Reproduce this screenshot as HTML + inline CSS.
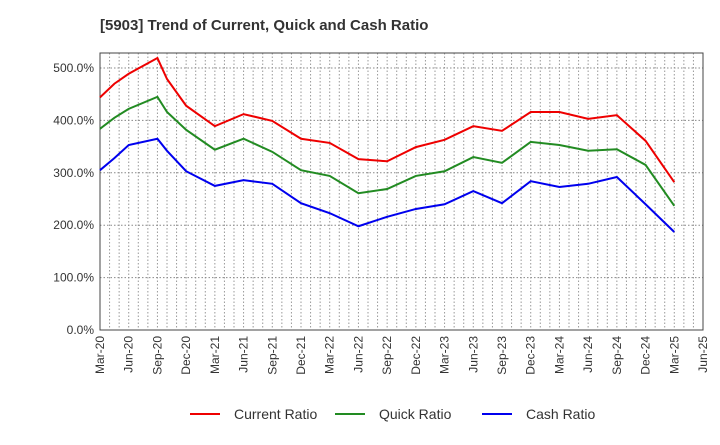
<!DOCTYPE html>
<html><head><meta charset="utf-8"><style>
body{margin:0;background:#fff;font-family:"Liberation Sans",sans-serif;}
svg text{font-family:"Liberation Sans",sans-serif;}
</style></head><body>
<svg id="chart" width="720" height="440">
<text x="100" y="30" font-size="15" font-weight="bold" fill="#333">[5903]  Trend of Current, Quick and Cash Ratio</text>
<g id="grid"></g>
<g id="axes"></g>
<g id="series"></g>
<g id="legend"></g>
</svg>
<script>
const months=[0,1.5,3,6,7,9,12,15,18,21,24,27,30,33,36,39,42,45,48,51,54,57,60];
const currentRatio=[444,470,489,519,479,428,389,412,399,365,357,326,322,349,363,389,380,416,416,403,410,361,282];
const quickRatio=[384,405,422,445,416,382,344,365,340,305,294,261,269,294,303,330,319,359,353,342,345,315,237];
const cashRatio=[305,328,353,365,342,303,275,286,279,242,223,198,216,231,240,265,242,284,273,279,292,240,187];
const xLabels=["Mar-20","Jun-20","Sep-20","Dec-20","Mar-21","Jun-21","Sep-21","Dec-21","Mar-22","Jun-22","Sep-22","Dec-22","Mar-23","Jun-23","Sep-23","Dec-23","Mar-24","Jun-24","Sep-24","Dec-24","Mar-25","Jun-25"];
const yTicks=[0,100,200,300,400,500];
const L=100,R=703,T=53,B=330,NM=63;
const X=m=>L+m*(R-L)/NM, Y=v=>B-v*(B-68)/500;
const NS="http://www.w3.org/2000/svg";
function mk(t,a,p){const e=document.createElementNS(NS,t);for(const k in a)e.setAttribute(k,a[k]);p.appendChild(e);return e;}
const grid=document.getElementById('grid'),axes=document.getElementById('axes'),ser=document.getElementById('series'),leg=document.getElementById('legend');
for(let m=1;m<NM;m++){const l=mk('line',{x1:X(m),x2:X(m),y1:T,y2:B,stroke:'#999','stroke-dasharray':'1.5,2','stroke-width':1},grid);

}
yTicks.forEach(v=>{if(v>0){const l=mk('line',{x1:L,x2:R,y1:Y(v),y2:Y(v),stroke:'#888','stroke-dasharray':'1.5,2','stroke-width':1},grid);

}
const t=mk('text',{x:L-6,y:Y(v)+4,'text-anchor':'end','font-size':12,fill:'#333'},axes);t.textContent=v.toFixed(1)+'%';

});
const fr=mk('rect',{x:L,y:T,width:R-L,height:B-T,fill:'none',stroke:'#444','stroke-width':1},axes);


xLabels.forEach((s,i)=>{const x=X(i*3);const t=mk('text',{transform:`translate(${x+4},${B+6}) rotate(-90)`,'text-anchor':'end','font-size':12,fill:'#333'},axes);t.textContent=s;

});
const S=[["Current Ratio",currentRatio,"#ee0000","current-ratio-line"],["Quick Ratio",quickRatio,"#228b22","quick-ratio-line"],["Cash Ratio",cashRatio,"#0000ee","cash-ratio-line"]];
const lx=[190,335,482];
S.forEach((s,i)=>{const p=mk('polyline',{points:months.map((m,j)=>X(m)+','+Y(s[1][j])).join(' '),fill:'none',stroke:s[2],'stroke-width':2},ser);


const g=mk('g',{},leg);


mk('line',{x1:lx[i],x2:lx[i]+30,y1:414,y2:414,stroke:s[2],'stroke-width':2},g);
const t=mk('text',{x:lx[i]+44,y:419,'font-size':14,fill:'#333'},g);t.textContent=s[0];});
</script>
</body></html>
